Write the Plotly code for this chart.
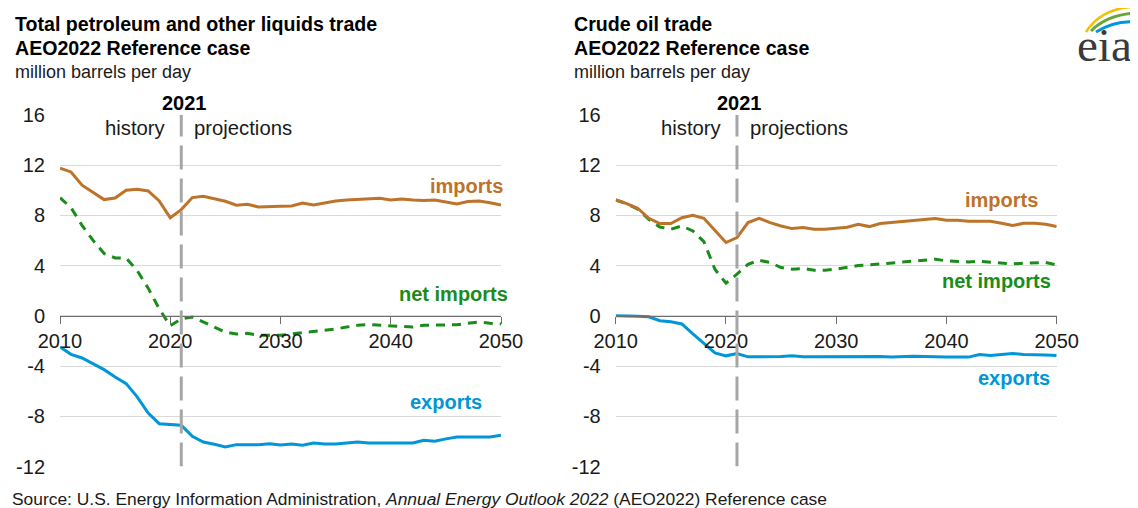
import plotly.graph_objects as go

# The page body has an 8px default margin, so the figure is drawn 8px smaller
# and every position below is given in window pixels and shifted by OFF.
WIN_W, WIN_H = 1138, 508
OFF = 8
W, H = WIN_W - OFF, WIN_H - OFF

years = list(range(2010, 2051))
x_ticks = [2010, 2020, 2030, 2040, 2050]
y_ticks = [-12, -8, -4, 0, 4, 8, 12, 16]
y_tick_text = ["-12", "-8", "-4", "0", "4", "8", "12", "16"]
split_year = 2021

# Total petroleum and other liquids trade (million barrels per day)
liq_imports = [11.75, 11.45, 10.4, 9.8, 9.25, 9.38, 10.0, 10.07, 9.94, 9.14, 7.8,
               8.45, 9.41, 9.52, 9.33, 9.12, 8.80, 8.88, 8.66, 8.66, 8.71,
               8.74, 8.98, 8.82, 9.0, 9.14, 9.22, 9.28, 9.35, 9.35, 9.22,
               9.30, 9.22, 9.17, 9.22, 9.06, 8.91, 9.09, 9.14, 8.99, 8.82]
liq_exports = [-2.48, -3.07, -3.36, -3.81, -4.29, -4.87, -5.40, -6.46, -7.74, -8.59, -8.64,
               -8.72, -9.59, -10.05, -10.23, -10.44, -10.26, -10.26, -10.26, -10.18, -10.29,
               -10.21, -10.31, -10.13, -10.21, -10.21, -10.13, -10.05, -10.13, -10.13, -10.13,
               -10.13, -10.13, -9.91, -9.99, -9.80, -9.65, -9.65, -9.65, -9.65, -9.51]
liq_net = [9.4, 8.6, 7.2, 6.0, 4.96, 4.6, 4.6, 3.6, 2.2, 0.55, -0.8,
           -0.25, -0.1, -0.5, -0.9, -1.3, -1.45, -1.4, -1.55, -1.55, -1.55,
           -1.45, -1.35, -1.3, -1.2, -1.05, -0.9, -0.75, -0.7, -0.75, -0.85,
           -0.85, -0.9, -0.75, -0.75, -0.75, -0.72, -0.6, -0.5, -0.6, -0.65]

# Crude oil trade (million barrels per day)
crude_imports = [9.22, 8.93, 8.56, 7.76, 7.34, 7.34, 7.81, 8.0, 7.76, 6.75, 5.83,
                 6.23, 7.42, 7.76, 7.42, 7.15, 6.94, 7.02, 6.89, 6.89, 6.97,
                 7.05, 7.28, 7.10, 7.34, 7.42, 7.5, 7.58, 7.66, 7.74, 7.6,
                 7.6, 7.52, 7.52, 7.52, 7.36, 7.18, 7.36, 7.36, 7.28, 7.10]
crude_exports = [0.0, 0.0, -0.03, -0.08, -0.39, -0.47, -0.65, -1.44, -2.22, -2.95, -3.19,
                 -3.0, -3.27, -3.27, -3.27, -3.24, -3.19, -3.27, -3.27, -3.27, -3.27,
                 -3.24, -3.22, -3.22, -3.24, -3.29, -3.24, -3.22, -3.24, -3.29, -3.29,
                 -3.29, -3.29, -3.08, -3.16, -3.08, -3.0, -3.08, -3.08, -3.13, -3.16]
crude_net = [9.22, 8.93, 8.48, 7.68, 7.07, 6.89, 7.15, 6.75, 5.9, 3.7, 2.6,
             3.31, 4.1, 4.42, 4.24, 3.84, 3.71, 3.76, 3.63, 3.63, 3.71,
             3.84, 4.0, 4.05, 4.13, 4.19, 4.24, 4.32, 4.45, 4.5, 4.37,
             4.34, 4.29, 4.34, 4.29, 4.21, 4.13, 4.19, 4.19, 4.24, 4.05]

C_IMP = "#BD732A"
C_EXP = "#0096D7"
C_NET = "#1A8C1A"
FONT = "Liberation Sans, Arial, sans-serif"


def px(x):
    return (x - OFF) / W


def py(y):
    return 1 - (y - OFF) / H


Y_BOT, Y_TOP = 466.5, 114.8
ydom = [py(Y_BOT), py(Y_TOP)]
zero_pos = ydom[0] + (0 - y_ticks[0]) / (y_ticks[-1] - y_ticks[0]) * (ydom[1] - ydom[0])

fig = go.Figure()

panels = [
    ("x", "y", liq_imports, liq_exports, liq_net),
    ("x2", "y2", crude_imports, crude_exports, crude_net),
]
for xa, ya, imp, exp_, net in panels:
    fig.add_trace(go.Scatter(x=years, y=net, xaxis=xa, yaxis=ya, mode="lines",
                             line=dict(color=C_NET, width=3, dash="9px,7px"),
                             showlegend=False, hoverinfo="skip"))
    fig.add_trace(go.Scatter(x=years, y=imp, xaxis=xa, yaxis=ya, mode="lines",
                             line=dict(color=C_IMP, width=3),
                             showlegend=False, hoverinfo="skip"))
    fig.add_trace(go.Scatter(x=years, y=exp_, xaxis=xa, yaxis=ya, mode="lines",
                             line=dict(color=C_EXP, width=3),
                             showlegend=False, hoverinfo="skip"))

xcommon = dict(range=[2010, 2050], tickvals=x_ticks, showgrid=False, zeroline=False,
               showline=True, linecolor="#6e6e6e", linewidth=1.3, ticks="outside",
               ticklen=7, tickcolor="#6e6e6e", tickwidth=1.3,
               tickfont=dict(family=FONT, size=20, color="#1a1a1a"),
               anchor="free", position=zero_pos, fixedrange=True, automargin=False)
ycommon = dict(range=[-12, 16], tickvals=y_ticks, ticktext=y_tick_text, showgrid=True,
               gridcolor="#d9d9d9", gridwidth=1, zeroline=False, showline=False, ticks="",
               tickfont=dict(family=FONT, size=20, color="#1a1a1a"),
               ticklabelstandoff=14, domain=ydom, fixedrange=True, automargin=False)

fig.update_layout(
    width=W, height=H, autosize=False,
    margin=dict(l=0, r=0, t=0, b=0, pad=0),
    paper_bgcolor="white", plot_bgcolor="white",
    xaxis=dict(domain=[px(60), px(501)], **xcommon),
    yaxis=dict(anchor="x", **ycommon),
    xaxis2=dict(domain=[px(615.7), px(1056.7)], **xcommon),
    yaxis2=dict(anchor="x2", **ycommon),
)

# 2021 divider lines
for xr, yr in [("x", "y"), ("x2", "y2")]:
    fig.add_shape(type="line", xref=xr, yref=yr, x0=split_year, x1=split_year,
                  y0=y_ticks[0], y1=y_ticks[-1],
                  line=dict(color="#a6a6a6", width=3, dash="24px,9px"), layer="above")

ann = []


def txt(text, x, y, size, xanchor="left", bold=False, color="#1a1a1a", xref="paper", xshift=0,
        family=FONT):
    ann.append(dict(text=f"<b>{text}</b>" if bold else text, x=x, y=y, xref=xref, yref="paper",
                    xanchor=xanchor, yanchor="middle", showarrow=False, xshift=xshift,
                    font=dict(family=family, size=size, color=color)))


# Titles
for x0, t1 in [(13, "Total petroleum and other liquids trade"), (572, "Crude oil trade")]:
    txt(t1, px(x0), py(24), 19.6, bold=True, color="#000000")
    txt("AEO2022 Reference case", px(x0), py(48), 19.6, bold=True, color="#000000")
    txt("million barrels per day", px(x0), py(72), 18, color="#1a1a1a")

# history / projections / 2021
for xr in ["x", "x2"]:
    txt("2021", split_year, py(103), 20, xanchor="center", bold=True, xref=xr, xshift=3,
        color="#000000")
    txt("history", split_year, py(128), 20.3, xanchor="right", xref=xr, xshift=-13)
    txt("projections", split_year, py(128), 20.3, xanchor="left", xref=xr, xshift=11)

# Series labels
txt("imports", px(505), py(186), 20, xanchor="right", bold=True, color=C_IMP)
txt("net imports", px(510), py(294), 20, xanchor="right", bold=True, color=C_NET)
txt("exports", px(484), py(402), 20, xanchor="right", bold=True, color=C_EXP)
txt("imports", px(1040), py(200), 20, xanchor="right", bold=True, color=C_IMP)
txt("net imports", px(1053), py(281), 20, xanchor="right", bold=True, color=C_NET)
txt("exports", px(1052), py(378), 20, xanchor="right", bold=True, color=C_EXP)

# Source
txt("Source: U.S. Energy Information Administration, <i>Annual Energy Outlook 2022</i> "
    "(AEO2022) Reference case", px(10), py(499), 17.4, color="#1a1a1a")

# eia logo
txt("eia", px(1075), py(45), 47, xanchor="left", color="#3a3a3a",
    family="Liberation Serif, DejaVu Serif, serif")

fig.update_layout(annotations=ann)


def arc(x0, y0, cx, cy, x1, y1, color, width):
    fig.add_shape(type="path", xref="paper", yref="paper",
                  path=f"M {px(x0)},{py(y0)} Q {px(cx)},{py(cy)} {px(x1)},{py(y1)}",
                  line=dict(color=color, width=width))


arc(1086, 32, 1100, 10, 1130, 7, "#F2C200", 2.5)
arc(1091, 31, 1108, 14, 1138, 13, "#6BA539", 3)
arc(1096, 32, 1115, 20, 1138, 22, "#0096D7", 3)

fig.write_html("out.html")
